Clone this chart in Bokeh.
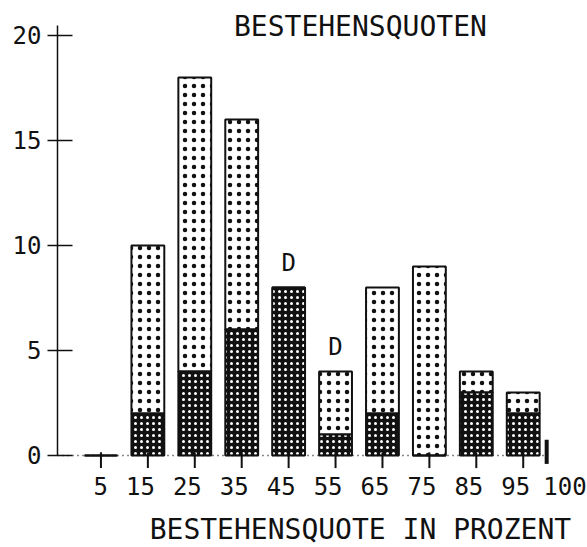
from bokeh.plotting import figure
from bokeh.models import ColumnDataSource, FixedTicker, Range1d
from bokeh.core.properties import value
from bokeh.embed import file_html
from bokeh.resources import INLINE

# ---- data ----
quote = [5, 15, 25, 35, 45, 55, 65, 75, 85, 95]          # Bestehensquote in %
total = [0, 10, 18, 16, 8, 4, 8, 9, 4, 3]               # bar height (all)
dark = [0, 2, 4, 6, 8, 1, 2, 0, 3, 2]                   # dark lower part
notes = ["", "", "", "", "D", "D", "", "", "", ""]      # marks above bars
tick_labels = ["5", "15", "25", "35", "45", "55", "65", "75", "85", "95"]
y_ticks = [0, 5, 10, 15, 20]
end_value = 100
title_text = "BESTEHENSQUOTEN"
xlabel_text = "BESTEHENSQUOTE IN PROZENT"

FONT = "DejaVu Sans Mono"
INK = "#111111"
Y_TOP = 20.48
X_START = -4.26
TICK_UP = 0.15      # tick length above the base line (y units)
TICK_DOWN = 0.6     # tick length below the base line (y units)

src = ColumnDataSource(dict(x=quote, total=total, dark=dark, notes=notes,
                            labels=tick_labels, zero=[0] * len(quote),
                            tick_top=[TICK_UP] * len(quote),
                            tick_bot=[-TICK_DOWN] * len(quote)))

p = figure(width=587, height=547, output_backend="svg", toolbar_location=None,
           x_range=Range1d(X_START, 108.7), y_range=Range1d(-4.381, 21.095),
           x_axis_location="above",
           min_border_left=57, min_border_right=0, min_border_top=12,
           min_border_bottom=0)
p.outline_line_color = None
p.xgrid.visible = False
p.ygrid.visible = False
p.background_fill_color = "white"

# light upper part
p.vbar(x="x", width=7, bottom="dark", top="total", source=src,
       fill_color="white", line_color=INK, line_width=2,
       hatch_pattern="dot", hatch_color=INK, hatch_scale=9, hatch_weight=1.1)
# dark lower part
p.vbar(x="x", width=7, bottom="zero", top="dark", source=src,
       fill_color=INK, line_color=INK, line_width=2,
       hatch_pattern="dot", hatch_color="white", hatch_scale=6, hatch_weight=1.5)

# category ticks on the base line
p.segment(x0="x", y0="tick_top", x1="x", y1="tick_bot", source=src,
          line_color=INK, line_width=2)

# end marker at 100
p.segment(x0=[end_value], y0=[-0.4], x1=[end_value], y1=[0.75],
          line_color=INK, line_width=4)

# notes above bars
p.text(x="x", y="total", text="notes", source=src, y_offset=-24,
       text_align="center", text_baseline="middle",
       text_font=value(FONT), text_font_size="24px", text_color=INK)

# x tick labels (units digit under the tick, plotter style)
p.text(x="x", y="zero", text="labels", source=src, x_offset=7, y_offset=31,
       text_align="right", text_baseline="middle",
       text_font=value(FONT), text_font_size="24px", text_color=INK)
p.text(x=[end_value], y=[0], text=[str(end_value)], x_offset=40, y_offset=31,
       text_align="right", text_baseline="middle",
       text_font=value(FONT), text_font_size="24px", text_color=INK)

# chart title and x axis title
p.text(x=[60.3], y=[20.43], text=[title_text], text_align="center",
       text_baseline="middle", text_font=value(FONT),
       text_font_size="28px", text_color=INK)
p.text(x=[60.3], y=[-3.52], text=[xlabel_text], text_align="center",
       text_baseline="middle", text_font=value(FONT),
       text_font_size="28px", text_color=INK)

# y axis
p.yaxis.ticker = FixedTicker(ticks=y_ticks)
p.yaxis.bounds = (0, Y_TOP)
p.yaxis.minor_tick_line_color = None
p.yaxis.major_tick_out = 10
p.yaxis.major_tick_in = 15
p.yaxis.major_tick_line_width = 1.5
p.yaxis.major_tick_line_color = INK
p.yaxis.axis_line_color = INK
p.yaxis.axis_line_width = 1.5
p.yaxis.major_label_standoff = 6
p.yaxis.major_label_text_font = FONT
p.yaxis.major_label_text_font_size = "24px"
p.yaxis.major_label_text_color = INK

# x axis: dotted base line drawn at y = 0
p.xaxis.fixed_location = 0
p.xaxis.ticker = FixedTicker(ticks=quote + [end_value])
p.xaxis.bounds = (X_START, end_value)
p.xaxis.minor_tick_line_color = None
p.xaxis.major_tick_line_color = None
p.xaxis.axis_line_color = INK
p.xaxis.axis_line_width = 1.5
p.xaxis.axis_line_dash = "1 4"
p.xaxis.major_label_standoff = 0
p.xaxis.major_label_text_font_size = "1px"
p.xaxis.major_label_overrides = {v: "" for v in quote + [end_value]}

open("out.html", "w").write(file_html(p, INLINE))
